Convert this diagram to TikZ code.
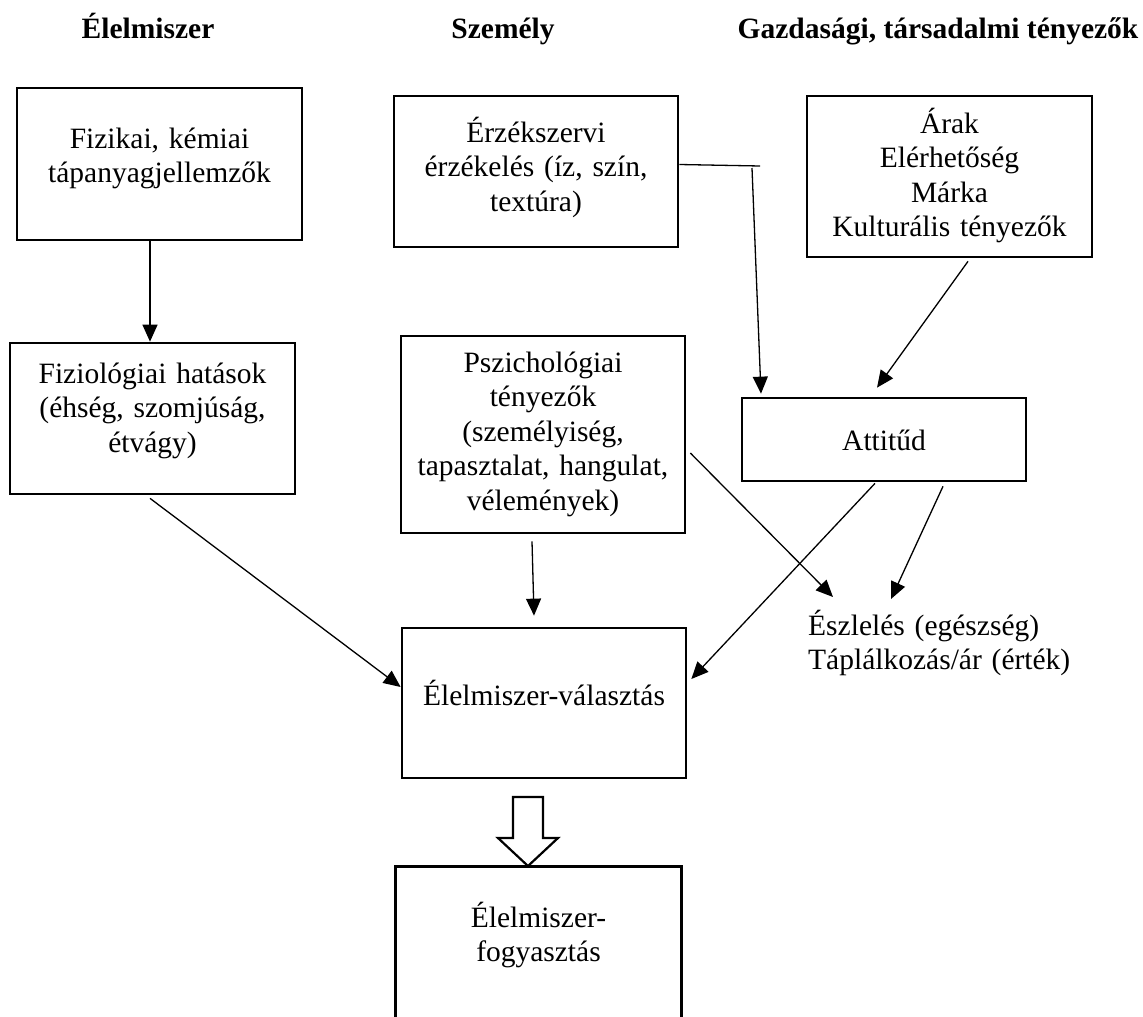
\documentclass[tikz,border=0pt]{standalone}
\usepackage{fontspec}
\setmainfont{Liberation Serif}
\usetikzlibrary{arrows.meta}

\begin{document}
\begin{tikzpicture}[x=1pt,y=-1pt,
  txtfont/.style={font=\fontsize{29.5}{34.5}\selectfont},
  box/.style={draw, line width=2.7pt, rectangle, inner sep=0pt, align=center, txtfont},
  head/.style={font=\fontsize{29.5}{34.5}\selectfont\bfseries, anchor=base, inner sep=0pt},
  link/.style={line width=1.3pt},
  arr/.style={link, -{Triangle[length=17pt,width=15pt]}},
  hollow/.style={draw, line width=2.2pt, line join=miter, fill=white}
]
\useasboundingbox (0,0) rectangle (1143,1017);

% column headings
\node[head] (h-food)   at (148,38) {Élelmiszer};
\node[head] (h-person) at (503,38) {Személy};
\node[head] (h-econ)   at (938,38) {Gazdasági, társadalmi tényezők};

% boxes (text depth / height place the text near the top of each box)
\node[box, minimum width=285pt, minimum height=152pt, text width=265pt,
      text height=0pt, text depth=32pt] (fiz) at (159.5,164)
  {Fizikai, kémiai\\tápanyagjellemzők};
\node[box, minimum width=285pt, minimum height=151pt, text width=265pt,
      text height=0pt, text depth=71pt] (phys) at (152.5,418.5)
  {Fiziológiai hatások\\(éhség, szomjúság,\\étvágy)};
\node[box, minimum width=284pt, minimum height=151pt, text width=264pt,
      text height=0pt, text depth=59pt] (sens) at (536,171.5)
  {Érzékszervi\\érzékelés (íz, szín,\\textúra)};
\node[box, minimum width=285pt, minimum height=161pt, text width=265pt,
      text height=0pt, text depth=87pt] (econ) at (949.5,176.5)
  {Árak\\Elérhetőség\\Márka\\Kulturális tényezők};
\node[box, minimum width=284pt, minimum height=197pt, text width=264pt,
      text height=0pt, text depth=125pt] (psy) at (543,434.5)
  {Pszichológiai\\tényezők\\(személyiség,\\tapasztalat, hangulat,\\vélemények)};
\node[box, minimum width=284pt, minimum height=83pt, text width=264pt,
      text height=21pt, text depth=0pt] (att) at (884,439.5)
  {Attitűd};
\node[box, minimum width=284pt, minimum height=150pt, text width=264pt,
      text height=4pt, text depth=0pt] (choice) at (544,703)
  {Élelmiszer-választás};
\node[box, draw=none, minimum width=283pt, minimum height=149pt, text width=263pt,
      text height=0pt, text depth=31pt] (cons) at (538.5,942.5)
  {Élelmiszer-\\fogyasztás};
\draw[line width=2.7pt] (cons.south west) -- (cons.north west)
  -- (cons.north east) -- (cons.south east);

% free-standing perception label
\node[txtfont, text width=300pt, align=left, inner sep=0pt, anchor=base west]
  (perc) at (808,635) {Észlelés (egészség)\\Táplálkozás/ár (érték)};

% connectors
\draw[arr] ([xshift=-9.5pt]fiz.south) -- ([xshift=-2.5pt]phys.north);
\draw[arr] ([xshift=-2.5pt,yshift=-3pt]phys.south) -- ([yshift=16pt]choice.west);

\coordinate (sensbend) at (760,166);
\coordinate (sensdrop) at (752,168);
\draw[link] ([yshift=7pt]sens.east) -- (sensbend);
\draw[arr] (sensdrop) -- ([xshift=-123pt,yshift=3pt]att.north);

\draw[arr] ([xshift=18.5pt,yshift=-3pt]econ.south) -- ([xshift=-7pt,yshift=9pt]att.north);

\draw[arr] ([xshift=-11pt,yshift=-7pt]psy.south) -- ([xshift=-10pt,yshift=11pt]choice.north);
\draw[arr] ([xshift=4pt,yshift=-18.5pt]psy.east) -- ([xshift=25pt,yshift=38pt]perc.base west);

\draw[arr] ([xshift=-9pt,yshift=-1pt]att.south) -- ([xshift=4pt,yshift=24pt]choice.east);
\draw[arr] ([xshift=59pt,yshift=-4pt]att.south) -- ([xshift=83pt,yshift=36pt]perc.base west);

% hollow block arrow from choice to consumption
\draw[hollow] (513,797) -- (543,797) -- (543,838) -- (558,838) -- (528,866)
  -- (498,838) -- (513,838) -- cycle;
\end{tikzpicture}
\end{document}
